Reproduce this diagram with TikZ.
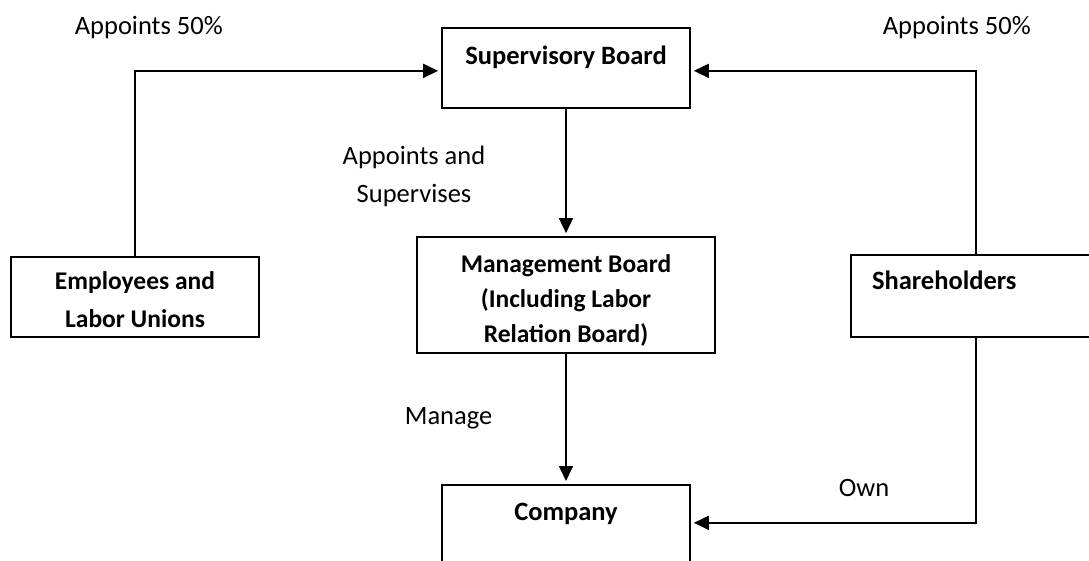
\documentclass[tikz,border=0pt]{standalone}
\usepackage{fontspec}
\setmainfont{Carlito}
\usetikzlibrary{arrows.meta}

\begin{document}
\begin{tikzpicture}[x=1pt,y=-1pt,line width=1.7pt,
    font=\fontsize{26.5}{38}\selectfont]

        \path[use as bounding box, fill=white] (0,0) rectangle (1089,561);

        \begin{scope}[every node/.style={rectangle, draw, line width=1.7pt, align=center,
            font=\fontsize{26.5}{38}\selectfont\bfseries}]
          \node[anchor=north, minimum width=248, inner ysep=0, text height=37, text depth=43] (sup) at (566,27) {Supervisory Board};
          \node[minimum width=248, minimum height=80, font=\fontsize{25.5}{38}\selectfont\bfseries] (emp) at (135,297) {\rule{0pt}{24pt}Employees and\\Labor Unions};
          \node[minimum width=298, minimum height=116, font=\fontsize{25.5}{35}\selectfont\bfseries] (mgmt) at (566,295) {\rule{0pt}{29pt}Management Board\\(Including Labor\\Relation Board)};
          \node[anchor=north, text width=208, inner xsep=21, inner ysep=0, align=left, text height=35, text depth=47] (sh) at (976,254) {Shareholders};
          \node[anchor=north, minimum width=248, inner ysep=0, text height=36, text depth=44] (comp) at (566,484) {Company};
        \end{scope}

        \begin{scope}[every node/.style={inner sep=0pt}]

          \node[anchor=base west] (apL) at (74,35) {Appoints 50\%};
          \node[anchor=base west] (apR) at (882,35) {Appoints 50\%};
          \node[align=center] (apsup) at (414,176) {Appoints and\\Supervises};
          \node[anchor=base west] (mng) at (404,424) {Manage};
          \node[anchor=base west] (own) at (838,496) {Own};

          \begin{scope}[every edge/.style={draw, -{Triangle[length=15pt,width=14pt]}, shorten >=3pt}]
            \path (sup)  edge (mgmt);
            \path (mgmt) edge (comp);
            \path (emp.north) edge[to path={|- (\tikztotarget)}] ([yshift=-3pt]sup.west);
            \path (sh.north)  edge[to path={|- (\tikztotarget)}] ([yshift=-3pt]sup.east);
            \path (sh.south)  edge[to path={|- (\tikztotarget)}] ([yshift=2pt]comp.east);
          \end{scope}
        \end{scope}

      \end{tikzpicture}
\end{document}
